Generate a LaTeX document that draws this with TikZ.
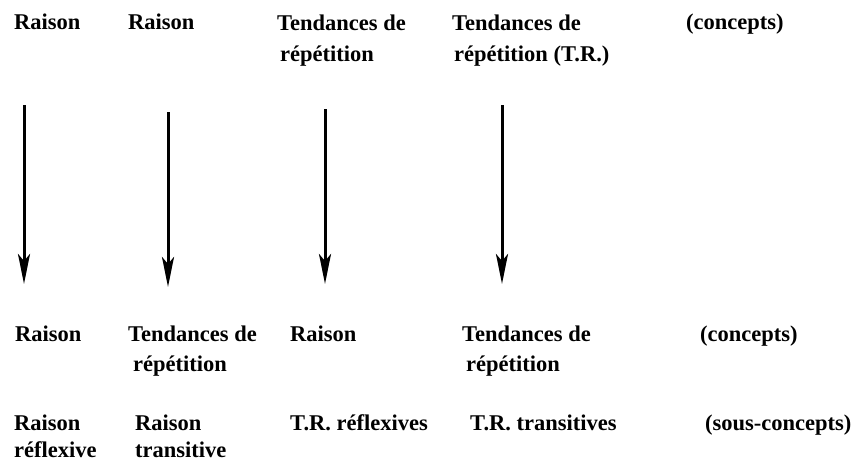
\documentclass[tikz,border=0pt]{standalone}
\usepackage{fontspec}
\setmainfont{Liberation Serif}
\usetikzlibrary{arrows.meta}
\begin{document}
\begin{tikzpicture}[x=1pt,y=-1pt,
  lbl/.style={inner sep=0pt,anchor=base west,font=\fontsize{22.5}{30}\selectfont\bfseries},
  arr/.style={line width=3pt,-{Stealth[length=30pt,width=12pt,inset=7pt]}}]
\useasboundingbox (0,0) rectangle (855,464);
% row 1 (concepts)
\node[lbl] (a1) at (14,29) {Raison};
\node[lbl] (b1) at (128,29) {Raison};
\node[lbl] (c1) at (277,30) {Tendances de};
\node[lbl] (c1b) at (280,61) {répétition};
\node[lbl] (d1) at (452,30) {Tendances de};
\node[lbl] (d1b) at (454,61) {répétition (T.R.)};
\node[lbl] (e1) at (686,29) {(concepts)};
% row 2 (concepts)
\node[lbl] (a2) at (15,341) {Raison};
\node[lbl] (b2) at (128,341) {Tendances de};
\node[lbl] (b2b) at (133,371) {répétition};
\node[lbl] (c2) at (290,341) {Raison};
\node[lbl] (d2) at (462,341) {Tendances de};
\node[lbl] (d2b) at (466,371) {répétition};
\node[lbl] (e2) at (700,341) {(concepts)};
% row 3 (sous-concepts)
\node[lbl] (a3) at (14,430) {Raison};
\node[lbl] (a3b) at (14,457) {réflexive};
\node[lbl] (b3) at (135,430) {Raison};
\node[lbl] (b3b) at (135,457) {transitive};
\node[lbl] (c3) at (290,430) {T.R. réflexives};
\node[lbl] (d3) at (470,430) {T.R. transitives};
\node[lbl] (e3) at (705,430) {(sous-concepts)};
% arrows
\coordinate (s1) at (24,105);  \coordinate (t1) at (24,284);
\coordinate (s2) at (168,112); \coordinate (t2) at (168,287);
\coordinate (s3) at (325,109); \coordinate (t3) at (325,284);
\coordinate (s4) at (502,105); \coordinate (t4) at (502,284);
\draw[arr] (s1) -- (t1);
\draw[arr] (s2) -- (t2);
\draw[arr] (s3) -- (t3);
\draw[arr] (s4) -- (t4);
\end{tikzpicture}
\end{document}
